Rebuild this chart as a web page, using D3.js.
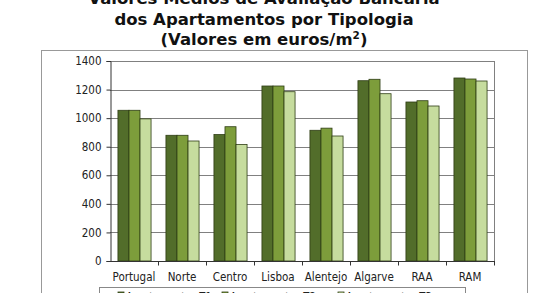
<!DOCTYPE html>
<html>
<head>
<meta charset="utf-8">
<script src="https://cdn.jsdelivr.net/npm/d3@7"></script>
<style>
  body { margin: 0; background: #fff; }
  svg { display: block; font-family: "DejaVu Sans Condensed", "DejaVu Sans", sans-serif; }
</style>
</head>
<body>
<svg id="chart" width="560" height="293"></svg>
<script>
const width = 560;
const height = 293;

// --- Data ---
const regions = ["Portugal", "Norte", "Centro", "Lisboa", "Alentejo", "Algarve", "RAA", "RAM"];
const seriesNames = ["Apartamentos T1", "Apartamentos T2", "Apartamentos T3"];
const t1 = [1055, 880, 885, 1225, 915, 1262, 1113, 1281];
const t2 = [1055, 880, 940, 1225, 930, 1272, 1122, 1274];
const t3 = [995, 840, 815, 1185, 875, 1171, 1085, 1260];
const yTicks = [0, 200, 400, 600, 800, 1000, 1200, 1400];
const colors = ["#526d2a", "#7d9d3b", "#c6dc9e"];

const svg = d3.select("#chart");

// --- Outer frame ---
svg.append("rect")
  .attr("x", 41.5).attr("y", 50.5)
  .attr("width", 486).attr("height", 260)
  .attr("fill", "none")
  .attr("stroke", "#999");

// --- Title ---
const title = svg.append("text")
  .attr("text-anchor", "middle")
  .attr("font-family", "'DejaVu Sans', sans-serif")
  .attr("font-weight", "bold")
  .attr("font-size", 16.5)
  .attr("fill", "#111");
title.append("tspan").attr("x", 264).attr("y", 4).text("Valores Médios de Avaliação Bancária");
title.append("tspan").attr("x", 264).attr("y", 25).text("dos Apartamentos por Tipologia");
const t3line = title.append("tspan").attr("x", 264).attr("y", 44.5);
t3line.append("tspan").text("(Valores em euros/m");
t3line.append("tspan").attr("dy", -6).attr("font-size", 10.5).text("2");
t3line.append("tspan").attr("dy", 6).text(")");

// --- Scales ---
const plot = { left: 110, right: 494, top: 61, bottom: 261 };

const x = d3.scaleBand()
  .domain(regions)
  .range([plot.left, plot.right])
  .paddingInner(0.31)
  .paddingOuter(0.155);

const xStep = d3.scaleBand()
  .domain(regions)
  .range([plot.left, plot.right]);

const xs = d3.scaleBand()
  .domain(d3.range(3))
  .range([0, x.bandwidth()]);

const y = d3.scaleLinear()
  .domain([0, 1400])
  .range([plot.bottom, plot.top]);

// --- Grid ---
svg.append("g")
  .selectAll("line")
  .data(yTicks.filter(d => d > 0))
  .join("line")
  .attr("x1", plot.left).attr("x2", plot.right)
  .attr("y1", d => Math.round(y(d)) + 0.5)
  .attr("y2", d => Math.round(y(d)) + 0.5)
  .attr("stroke", "#808080");

svg.append("line")
  .attr("x1", plot.right + 0.5).attr("x2", plot.right + 0.5)
  .attr("y1", plot.top).attr("y2", plot.bottom)
  .attr("stroke", "#808080");

// --- Bars ---
const seriesData = [t1, t2, t3];
svg.append("g")
  .selectAll("g")
  .data(regions)
  .join("g")
  .attr("transform", d => `translate(${x(d)},0)`)
  .selectAll("rect")
  .data((d, i) => seriesData.map((s, k) => ({ k, v: s[i] })))
  .join("rect")
  .attr("x", d => xs(d.k) + 0.5)
  .attr("y", d => y(d.v))
  .attr("width", xs.bandwidth())
  .attr("height", d => y(0) - y(d.v))
  .attr("fill", d => colors[d.k])
  .attr("stroke", "#2e3d14")
  .attr("stroke-width", 0.8);

// --- Axes ---
const yAxis = svg.append("g")
  .attr("transform", `translate(${plot.left + 0.5},0)`)
  .call(d3.axisLeft(y).tickValues(yTicks).tickFormat(d3.format("d")).tickSize(4).tickPadding(5));
yAxis.selectAll("text").attr("font-size", 11.5).attr("fill", "#222").attr("font-family", "'DejaVu Sans Condensed', sans-serif");
yAxis.selectAll("line, path").attr("stroke", "#333");

const xAxis = svg.append("g")
  .attr("transform", `translate(0,${plot.bottom + 0.5})`);
xAxis.append("line")
  .attr("x1", plot.left).attr("x2", plot.right + 1)
  .attr("stroke", "#333");
xAxis.selectAll(".tick")
  .data(regions.slice(1))
  .join("line")
  .attr("class", "tick")
  .attr("x1", d => xStep(d) + 0.5).attr("x2", d => xStep(d) + 0.5)
  .attr("y1", 0).attr("y2", 4)
  .attr("stroke", "#333");
xAxis.append("line")
  .attr("x1", plot.right + 0.5).attr("x2", plot.right + 0.5)
  .attr("y1", 0).attr("y2", 4)
  .attr("stroke", "#333");
xAxis.selectAll("text")
  .data(regions)
  .join("text")
  .attr("x", d => xStep(d) + xStep.bandwidth() / 2)
  .attr("y", 19)
  .attr("text-anchor", "middle")
  .attr("font-size", 11.5)
  .attr("fill", "#222")
  .text(d => d);

// --- Legend ---
const legend = svg.append("g");
legend.append("rect")
  .attr("x", 99.5).attr("y", 287.5)
  .attr("width", 366).attr("height", 20)
  .attr("fill", "#fff")
  .attr("stroke", "#888");
const legendX = [118, 222, 338];
const item = legend.selectAll("g.item")
  .data(seriesNames)
  .join("g")
  .attr("class", "item")
  .attr("transform", (d, i) => `translate(${legendX[i]},0)`);
item.append("rect")
  .attr("x", 0).attr("y", 292)
  .attr("width", 6).attr("height", 6)
  .attr("fill", (d, i) => colors[i])
  .attr("stroke", "#2e3d14")
  .attr("stroke-width", 0.8);
item.append("text")
  .attr("x", 8).attr("y", 300)
  .attr("font-size", 11)
  .attr("fill", "#222")
  .text(d => d);
</script>
</body>
</html>
